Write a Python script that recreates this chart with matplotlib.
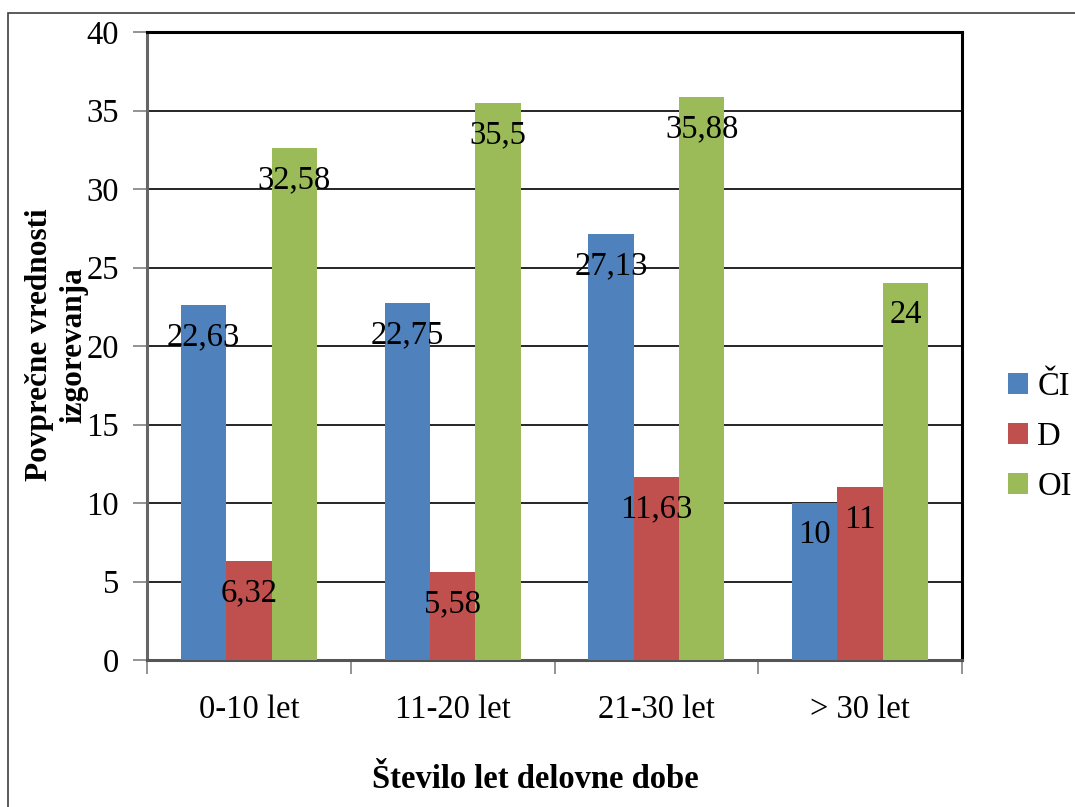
import numpy as np
import matplotlib.pyplot as plt
from matplotlib.patches import Rectangle

plt.rcParams['font.family'] = ['Liberation Serif', 'DejaVu Serif']

groups = ['0-10 let', '11-20 let', '21-30 let', '> 30 let']
series = ['ČI', 'D', 'OI']
ci = [22.63, 22.75, 27.13, 10]
d = [6.32, 5.58, 11.63, 11]
oi = [32.58, 35.5, 35.88, 24]
colors = ['#4F81BD', '#C0504D', '#9BBB59']
fs = 23.5

fig = plt.figure(figsize=(10.75, 8.07), dpi=100)
ax = fig.add_axes([147/1075, 1-660/807, (962-147)/1075, (660-32)/807])

# outer chart frame
fig.patches.append(Rectangle((8/1075, -0.1), 1.2, 1 - 13/807 + 0.1, transform=fig.transFigure,
                             fill=False, edgecolor='#404040', linewidth=1.2))

x = np.arange(len(groups))
w = 1/4.5
for i, (vals, name) in enumerate(zip([ci, d, oi], series)):
    bars = ax.bar(x + (i-1)*w, vals, width=w, color=colors[i], label=name, zorder=3)
    for b, v in zip(bars, vals):
        ax.annotate(f'{v:g}'.replace('.', ','), (b.get_x() + b.get_width()/2, v),
                    xytext=(0, -32), textcoords='offset pixels',
                    ha='center', va='center', fontsize=fs, zorder=4)

ax.set_xlim(-0.5, len(groups) - 0.5)
ax.set_ylim(0, 40)
ax.set_yticks(np.arange(0, 41, 5))
ax.yaxis.grid(True, color='black', linewidth=1.2, zorder=0)
ax.tick_params(axis='y', labelsize=fs, length=10, width=1.2, color='#808080', pad=10, direction='out')

ax.set_xticks(np.arange(len(groups) + 1) - 0.5)
ax.set_xticklabels([])
ax.set_xticks(x, minor=True)
ax.set_xticklabels(groups, minor=True, fontsize=fs)
ax.tick_params(axis='x', which='major', length=10, width=1.2, color='#808080')
ax.tick_params(axis='x', which='minor', length=0, pad=25)

for side in ['top', 'right']:
    ax.spines[side].set_linewidth(2.2)
    ax.spines[side].set_color('black')
ax.spines['left'].set_linewidth(2.2)
ax.spines['left'].set_color('#666666')
ax.spines['bottom'].set_linewidth(2.2)
ax.spines['bottom'].set_color('#555555')

fig.text(535/1075, 1-780/807, 'Število let delovne dobe', ha='center', va='center',
         fontsize=fs, fontweight='bold')
fig.text(57/1075, 1-345/807, 'Povprečne vrednosti\nizgorevanja', ha='center', va='center',
         rotation=90, fontsize=22.5, fontweight='bold', linespacing=1.25)

fig.legend(loc='center left', bbox_to_anchor=(1008/1075, 1-437/807), frameon=False,
           fontsize=fs, handlelength=0.6, handleheight=0.6, handletextpad=0.3,
           labelspacing=0.6, borderpad=0, borderaxespad=0)

fig.savefig('out.png', dpi=100)
